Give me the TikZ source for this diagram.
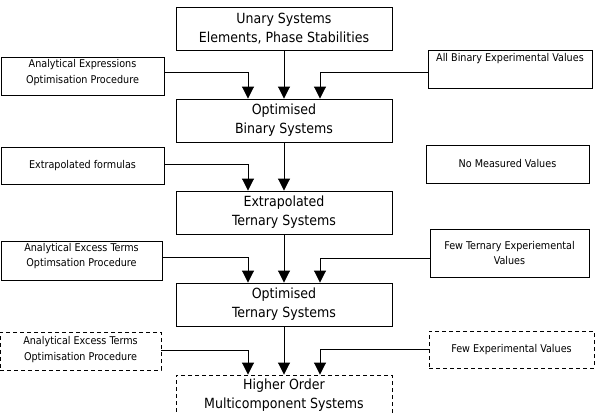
\documentclass[tikz,border=0pt]{standalone}
\usepackage{fontspec}
\setmainfont{DejaVu Sans Condensed}
\usetikzlibrary{arrows.meta}
\tikzset{
  mainbox/.style={draw, line width=0.9pt, minimum width=216pt, minimum height=43pt, inner sep=0pt, align=center, font=\fontsize{14}{19}\selectfont},
  sidebox/.style={draw, line width=0.9pt, inner sep=0pt, align=center, font=\fontsize{10.7}{15.5}\selectfont},
  dashbox/.style={dash pattern=on 4pt off 3pt},
  conn/.style={line width=0.9pt, -{Triangle[width=12pt,length=12pt]}}
}
\begin{document}
\begin{tikzpicture}[x=1pt,y=-1pt]
\useasboundingbox (0,0) rectangle (598,415);
% main column
\node[mainbox] (b1) at (284,28.5) {Unary Systems\\Elements, Phase Stabilities};
\node[mainbox] (b2) at (284,120.5) {Optimised\\Binary Systems};
\node[mainbox] (b3) at (284,212.5) {Extrapolated\\Ternary Systems};
\node[mainbox] (b4) at (284,304.5) {Optimised\\Ternary Systems};
\node[mainbox,dashbox,minimum height=46pt] (b5) at (284,398) {Higher Order\\Multicomponent Systems\\[-11pt]\mbox{}};
% side boxes
\node[sidebox,minimum width=163pt,minimum height=38pt] (l1) at (82.5,76) {Analytical Expressions\\Optimisation Procedure\\[-6pt]\mbox{}};
\node[sidebox,minimum width=164pt,minimum height=38pt] (r1) at (510,69) {All Binary Experimental Values\\[8pt]\mbox{}};
\node[sidebox,minimum width=163pt,minimum height=37pt] (l2) at (82.5,165.5) {Extrapolated formulas};
\node[sidebox,minimum width=163pt,minimum height=38pt] (r2) at (507.5,164) {No Measured Values};
\node[sidebox,minimum width=161pt,minimum height=39pt] (l3) at (81.5,260.5) {Analytical Excess Terms\\Optimsation Procedure\\[-4pt]\mbox{}};
\node[sidebox,minimum width=159pt,minimum height=48pt] (r3) at (509.5,253) {Few Ternary Experiemental\\Values};
\node[sidebox,dashbox,minimum width=161pt,minimum height=38pt] (l4) at (80.5,351) {Analytical Excess Terms\\Optimisation Procedure\\[-10pt]\mbox{}};
\node[sidebox,dashbox,minimum width=165pt,minimum height=37pt] (r4) at (511.5,349.5) {Few Experimental Values};
% connectors
\draw[conn] (b1) -- (b2);
\draw[conn] (b2) -- (b3);
\draw[conn] (b3) -- (b4);
\draw[conn] (b4) -- (b5);
\draw[conn] ([yshift=4pt]l1.east) -| ([xshift=-36pt]b2.north);
\draw[conn] ([yshift=-3pt]r1.west) -| ([xshift=36pt]b2.north);
\draw[conn] ([yshift=1.5pt]l2.east) -| ([xshift=-36pt]b3.north);
\draw[conn] ([yshift=3.5pt]l3.east) -| ([xshift=-36pt]b4.north);
\draw[conn] ([yshift=-5pt]r3.west) -| ([xshift=36pt]b4.north);
\draw[conn] ([yshift=1pt]l4.east) -| ([xshift=-36pt]b5.north);
\draw[conn] ([yshift=0.5pt]r4.west) -| ([xshift=36pt]b5.north);
\end{tikzpicture}
\end{document}
